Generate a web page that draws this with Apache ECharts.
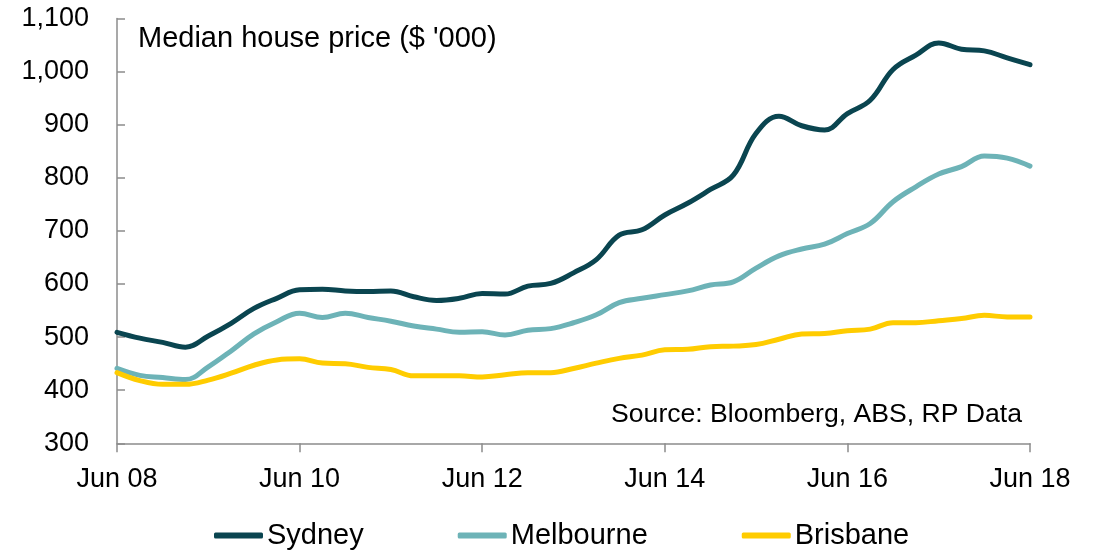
<!DOCTYPE html>
<html>
<head>
<meta charset="utf-8">
<script src="https://cdn.jsdelivr.net/npm/echarts@6/dist/echarts.min.js"></script>
<style>
  html, body { margin: 0; padding: 0; background: #fff; }
  #chart { width: 1099px; height: 550px; }
</style>
</head>
<body>
<div id="chart"></div>
<script>
// Quarterly observations, Jun 2008 to Jun 2018
const quarters = [
  'Jun 08','Sep 08','Dec 08','Mar 09','Jun 09','Sep 09','Dec 09','Mar 10',
  'Jun 10','Sep 10','Dec 10','Mar 11','Jun 11','Sep 11','Dec 11','Mar 12',
  'Jun 12','Sep 12','Dec 12','Mar 13','Jun 13','Sep 13','Dec 13','Mar 14',
  'Jun 14','Sep 14','Dec 14','Mar 15','Jun 15','Sep 15','Dec 15','Mar 16',
  'Jun 16','Sep 16','Dec 16','Mar 17','Jun 17','Sep 17','Dec 17','Mar 18',
  'Jun 18'
];

// Median house price, $ '000
const sydney = [
  509, 498, 490, 481, 502, 526, 554, 573,
  589, 590, 587, 586, 587, 576, 569, 573,
  582, 581, 596, 601, 621, 646, 692, 702,
  730, 752, 778, 805, 884, 916, 898, 890,
  921, 946, 1004, 1031, 1054, 1042, 1039, 1026,
  1013
];
const melbourne = [
  441, 428, 424, 420, 444, 474, 506, 529,
  545, 537, 545, 537, 530, 521, 515, 509,
  510, 504, 513, 516, 527, 542, 565, 573,
  580, 587, 598, 604, 630, 653, 666, 675,
  695, 714, 755, 783, 807, 821, 841, 837,
  822
];
const brisbane = [
  433, 418, 411, 411, 419, 432, 447, 457,
  459, 451, 450, 443, 439, 427, 427, 427,
  425, 429, 433, 433, 441, 451, 460, 466,
  476, 477, 482, 483, 486, 496, 506, 507,
  512, 515, 527, 527, 531, 535, 541, 538,
  538
];

const yTicks = { min: 300, max: 1100, step: 100 };

const FONT = "'Liberation Sans', Arial, Helvetica, sans-serif";

const chart = echarts.init(document.getElementById('chart'), null, { renderer: 'canvas' });

const fmtThousands = v => String(v).replace(/\B(?=(\d{3})+(?!\d))/g, ',');

chart.setOption({
  animation: false,
  backgroundColor: '#ffffff',
  textStyle: { fontFamily: FONT, color: '#000' },
  title: {
    text: "Median house price ($ '000)",
    left: 133,
    top: 19,
    textStyle: { fontFamily: FONT, fontSize: 29, fontWeight: 'normal', color: '#000' }
  },
  graphic: [{
    type: 'text',
    right: 77,
    top: 401,
    style: {
      text: 'Source: Bloomberg, ABS, RP Data',
      fontFamily: FONT,
      fontSize: 26.6,
      fill: '#000'
    }
  }],
  legend: {
    left: 209,
    top: 516,
    icon: 'roundRect',
    itemWidth: 49,
    itemHeight: 6,
    itemGap: 94,
    textStyle: { fontFamily: FONT, fontSize: 29, color: '#000', padding: [0, 0, 0, -1] },
    data: ['Sydney', 'Melbourne', 'Brisbane']
  },
  grid: {
    left: 117,
    right: 69,
    top: 18.5,
    bottom: 106.7,
    containLabel: false
  },
  xAxis: {
    type: 'category',
    data: quarters,
    boundaryGap: false,
    axisLine: { show: true, lineStyle: { color: '#8c8c8c', width: 1.5 } },
    axisTick: { show: true, inside: false, length: 9, interval: 7, lineStyle: { color: '#8c8c8c', width: 1.5 } },
    axisLabel: { interval: 7, fontFamily: FONT, fontSize: 27, color: '#000', margin: 23 },
    splitLine: { show: false }
  },
  yAxis: {
    type: 'value',
    min: yTicks.min,
    max: yTicks.max,
    interval: yTicks.step,
    axisLine: { show: true, lineStyle: { color: '#8c8c8c', width: 1.5 } },
    axisTick: { show: true, inside: true, length: 8, lineStyle: { color: '#8c8c8c', width: 1.5 } },
    axisLabel: { fontFamily: FONT, fontSize: 27, color: '#000', margin: 28, formatter: fmtThousands },
    splitLine: { show: false }
  },
  series: [
    {
      name: 'Sydney', type: 'line', data: sydney, smooth: 0.4, symbol: 'none',
      color: '#0a4550',
      lineStyle: { width: 5, color: '#0a4550', cap: 'round' }
    },
    {
      name: 'Melbourne', type: 'line', data: melbourne, smooth: 0.4, symbol: 'none',
      color: '#6db3b7',
      lineStyle: { width: 5, color: '#6db3b7', cap: 'round' }
    },
    {
      name: 'Brisbane', type: 'line', data: brisbane, smooth: 0.4, symbol: 'none',
      color: '#ffcc00',
      lineStyle: { width: 5, color: '#ffcc00', cap: 'round' }
    }
  ]
});
</script>
</body>
</html>
